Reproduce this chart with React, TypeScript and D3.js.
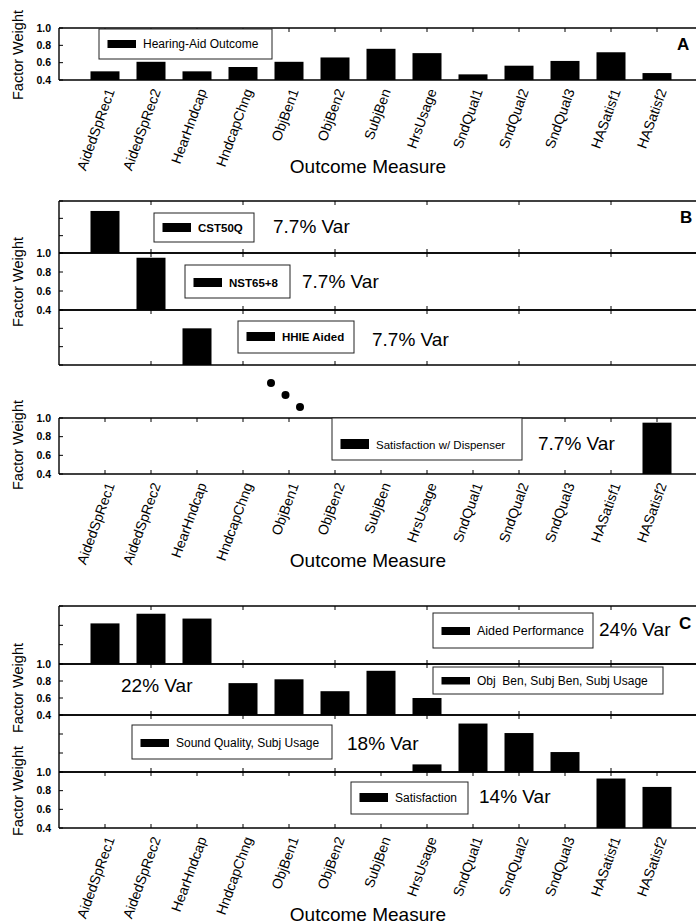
import React from 'react';
import * as d3 from 'd3';

// outcome measures along x
const categories = [
  'AidedSpRec1', 'AidedSpRec2', 'HearHndcap', 'HndcapChng', 'ObjBen1', 'ObjBen2', 'SubjBen',
  'HrsUsage', 'SndQual1', 'SndQual2', 'SndQual3', 'HASatisf1', 'HASatisf2',
];

const yTicks = [1.0, 0.8, 0.6, 0.4];

// Panel A: single factor
const hearingAidOutcome = [0.5, 0.61, 0.5, 0.55, 0.61, 0.66, 0.76, 0.71, 0.465, 0.565, 0.62, 0.72, 0.48];

// Panel B: 13 factors, 4 shown
const bLabels = ['CST50Q', 'NST65+8', 'HHIE Aided', 'Satisfaction w/ Dispenser'];
const bVar = ['7.7% Var', '7.7% Var', '7.7% Var', '7.7% Var'];
const bLoadings = [
  [{ cat: 'AidedSpRec1', w: 0.885 }],
  [{ cat: 'AidedSpRec2', w: 0.95 }],
  [{ cat: 'HearHndcap', w: 0.8 }],
  [{ cat: 'HASatisf2', w: 0.95 }],
];

// Panel C: 4 factors
const cLabels = ['Aided Performance', 'Obj  Ben, Subj Ben, Subj Usage', 'Sound Quality, Subj Usage', 'Satisfaction'];
const cVar = ['24% Var', '22% Var', '18% Var', '14% Var'];
const cLoadings = [
  [{ cat: 'AidedSpRec1', w: 0.82 }, { cat: 'AidedSpRec2', w: 0.92 }, { cat: 'HearHndcap', w: 0.87 }],
  [{ cat: 'HndcapChng', w: 0.775 }, { cat: 'ObjBen1', w: 0.82 }, { cat: 'ObjBen2', w: 0.68 },
   { cat: 'SubjBen', w: 0.92 }, { cat: 'HrsUsage', w: 0.6 }],
  [{ cat: 'HrsUsage', w: 0.48 }, { cat: 'SndQual1', w: 0.91 }, { cat: 'SndQual2', w: 0.81 }, { cat: 'SndQual3', w: 0.61 }],
  [{ cat: 'HASatisf1', w: 0.93 }, { cat: 'HASatisf2', w: 0.84 }],
];

const W = 696;
const H = 924;
const FONT = '"Liberation Sans", Arial, Helvetica, sans-serif';
const X0 = 59;
const X1 = 703;
const BAR_W = 29;

const x = d3.scalePoint<string>().domain(categories).range([105, 657]);

type Sub = { top: number; bottom: number; labels: boolean; allTicks: boolean };

// legend layout: box x,y,w,h ; swatch top,h ; var text x,y
type Leg = { bx: number; by: number; bw: number; bh: number; sy: number; sh: number; fs: number; bold?: boolean; vx?: number; vy?: number };

function SubPanel({ s, bars }: { s: Sub; bars: { cat: string; w: number }[] }) {
  const y = d3.scaleLinear().domain([0.4, 1.0]).range([s.bottom, s.top]);
  const tickCats = s.allTicks ? categories : categories.filter((_, i) => i % 2 === 1);
  return (
    <g>
      {bars.map(d => (
        <rect key={d.cat} x={x(d.cat)! - BAR_W / 2} y={y(d.w)} width={BAR_W} height={s.bottom - y(d.w)} fill="#000" />
      ))}
      <line x1={X0} x2={X1} y1={s.top} y2={s.top} stroke="#000" strokeWidth={1.4} />
      <line x1={X0} x2={X1} y1={s.bottom} y2={s.bottom} stroke="#000" strokeWidth={1.4} />
      <line x1={X0} x2={X0} y1={s.top} y2={s.bottom} stroke="#000" strokeWidth={1.4} />
      {tickCats.map(c => (
        <g key={c}>
          <line x1={x(c)} x2={x(c)} y1={s.top} y2={s.top + 4} stroke="#000" strokeWidth={1} />
          <line x1={x(c)} x2={x(c)} y1={s.bottom} y2={s.bottom - 4} stroke="#000" strokeWidth={1} />
        </g>
      ))}
      {yTicks.map(t => (
        <g key={t}>
          <line x1={X0} x2={X0 + 4} y1={y(t)} y2={y(t)} stroke="#000" strokeWidth={1} />
          {s.labels && (
            <text x={51} y={y(t)} dy="0.36em" textAnchor="end" fontSize={10.5} fontWeight="bold" fontFamily={FONT}>
              {t.toFixed(1)}
            </text>
          )}
        </g>
      ))}
    </g>
  );
}

function Legend({ l, label }: { l: Leg; label: string }) {
  return (
    <g fontFamily={FONT}>
      <rect x={l.bx} y={l.by} width={l.bw} height={l.bh} fill="#fff" stroke="#222" strokeWidth={1} />
      <rect x={l.bx + 8.5} y={l.sy} width={28.5} height={l.sh} fill="#000" />
      <text x={l.bx + 44} y={l.sy + l.sh} fontSize={l.fs} fontWeight={l.bold ? 'bold' : 'normal'}
        style={{ whiteSpace: 'pre' }}>{label}</text>
    </g>
  );
}

function XLabels({ axisY }: { axisY: number }) {
  return (
    <g fontFamily={FONT}>
      {categories.map(c => (
        <text key={c} transform={`translate(${x(c)! + 10},${axisY + 11}) rotate(-70)`} textAnchor="end" fontSize={14}>
          {c}
        </text>
      ))}
      <text x={368} y={axisY + 93} textAnchor="middle" fontSize={19}>Outcome Measure</text>
    </g>
  );
}

function YTitle({ cy }: { cy: number }) {
  return (
    <text transform={`translate(23,${cy}) rotate(-90)`} textAnchor="middle" fontSize={14.5} fontFamily={FONT}>
      Factor Weight
    </text>
  );
}

const subsA: Sub = { top: 28, bottom: 80, labels: true, allTicks: true };
const subsB: Sub[] = [
  { top: 201, bottom: 253, labels: false, allTicks: false },
  { top: 253, bottom: 310, labels: true, allTicks: false },
  { top: 310, bottom: 365, labels: false, allTicks: false },
  { top: 418, bottom: 474, labels: true, allTicks: true },
];
const subsC: Sub[] = [
  { top: 606, bottom: 664, labels: false, allTicks: false },
  { top: 664, bottom: 715, labels: true, allTicks: false },
  { top: 715, bottom: 772, labels: false, allTicks: false },
  { top: 772, bottom: 828, labels: true, allTicks: true },
];

const legA: Leg = { bx: 99, by: 29, bw: 173, bh: 30, sy: 40, sh: 8, fs: 12 };
const legB: Leg[] = [
  { bx: 154, by: 213, bw: 100, bh: 29, sy: 223, sh: 9, fs: 11.5, bold: true, vx: 273, vy: 233 },
  { bx: 185, by: 265, bw: 105, bh: 33, sy: 278, sh: 9, fs: 11.5, bold: true, vx: 302, vy: 288 },
  { bx: 238, by: 321, bw: 116, bh: 32, sy: 332, sh: 9, fs: 11.5, bold: true, vx: 372, vy: 346 },
  { bx: 332, by: 418, bw: 190, bh: 42, sy: 439, sh: 10, fs: 11.5, vx: 538, vy: 450 },
];
const legC: Leg[] = [
  { bx: 433, by: 613, bw: 160, bh: 35, sy: 627, sh: 8, fs: 12.5, vx: 599, vy: 636 },
  { bx: 433, by: 667, bw: 230, bh: 27, sy: 677, sh: 7.5, fs: 12, vx: 121, vy: 692 },
  { bx: 132, by: 725, bw: 200, bh: 34, sy: 739, sh: 8, fs: 12, vx: 347, vy: 750 },
  { bx: 351, by: 782, bw: 117, bh: 32, sy: 793, sh: 9, fs: 12, vx: 479, vy: 803 },
];

export default function App() {
  const aBars = categories.map((c, i) => ({ cat: c, w: hearingAidOutcome[i] }));
  return (
    <svg width={W} height={H} style={{ position: 'absolute', left: 0, top: 0, background: '#fff' }}>
      {/* Panel A */}
      <SubPanel s={subsA} bars={aBars} />
      <Legend l={legA} label="Hearing-Aid Outcome" />
      <text x={677} y={50} fontSize={17} fontWeight="bold" fontFamily={FONT}>A</text>
      <YTitle cy={55} />
      <XLabels axisY={80} />

      {/* Panel B */}
      {subsB.map((s, i) => <SubPanel key={i} s={s} bars={bLoadings[i]} />)}
      {legB.map((l, i) => (
        <g key={i}>
          <Legend l={l} label={bLabels[i]} />
          <text x={l.vx} y={l.vy} fontSize={19} fontFamily={FONT}>{bVar[i]}</text>
        </g>
      ))}
      {[0, 1, 2].map(i => (
        <circle key={i} cx={x('HndcapChng')! + 28 + i * 14.5} cy={383 + i * 12} r={4} fill="#000" />
      ))}
      <text x={680} y={223} fontSize={17} fontWeight="bold" fontFamily={FONT}>B</text>
      <YTitle cy={282} />
      <YTitle cy={445} />
      <XLabels axisY={474} />

      {/* Panel C */}
      {subsC.map((s, i) => <SubPanel key={i} s={s} bars={cLoadings[i]} />)}
      {legC.map((l, i) => (
        <g key={i}>
          <Legend l={l} label={cLabels[i]} />
          <text x={l.vx} y={l.vy} fontSize={19} fontFamily={FONT}>{cVar[i]}</text>
        </g>
      ))}
      <text x={679} y={629} fontSize={17} fontWeight="bold" fontFamily={FONT}>C</text>
      <YTitle cy={688} />
      <YTitle cy={791} />
      <XLabels axisY={828} />
    </svg>
  );
}
